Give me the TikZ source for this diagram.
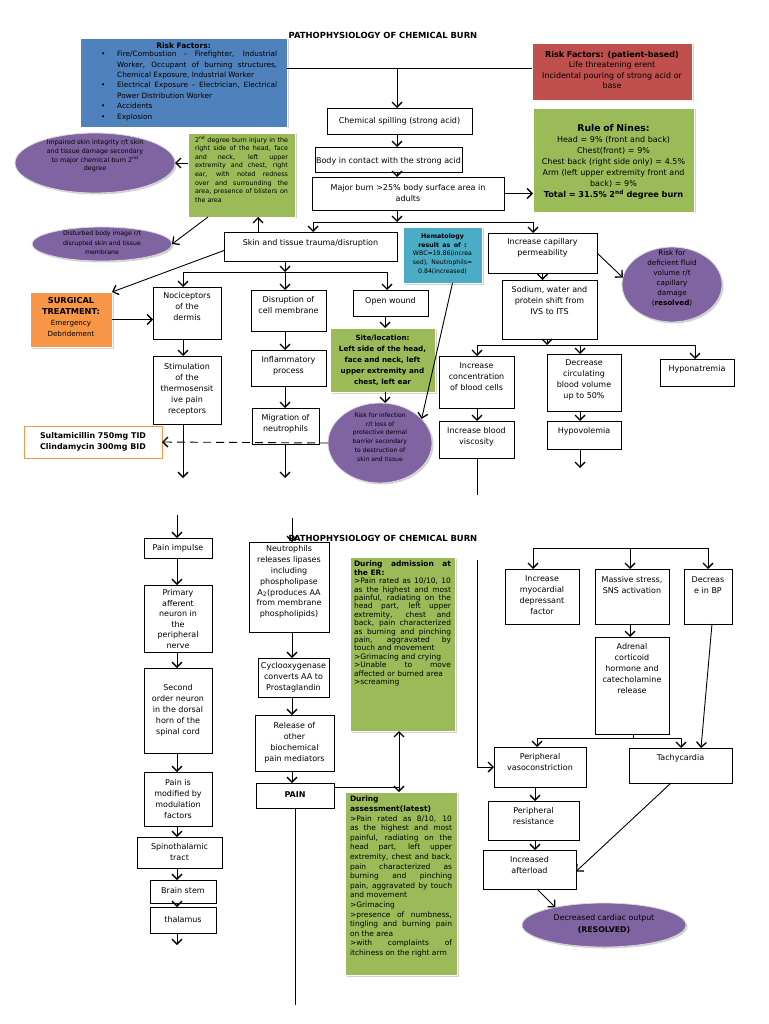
\documentclass[tikz,border=0pt]{standalone}
\usepackage{fontspec}
\setmainfont{DejaVu Sans}
\usetikzlibrary{arrows.meta,shapes.geometric,shadows,calc}
\definecolor{cblue}{HTML}{4F81BD}
\definecolor{cred}{HTML}{C0504D}
\definecolor{cgreen}{HTML}{9BBB59}
\definecolor{corange}{HTML}{F79646}
\definecolor{cteal}{HTML}{4BACC6}
\definecolor{cpurple}{HTML}{8064A2}
\newcommand\fz[2]{\fontsize{#1}{#2}\selectfont}
\newcommand\bitem[1]{\hangindent=37pt\hangafter=1\noindent\hspace*{21pt}\makebox[16pt][l]{\textbullet}#1\par}
\tikzset{
 boxshape/.style={draw=black, line width=0.9pt, fill=white, rectangle, inner sep=0pt, outer sep=0pt},
 txt/.style={align=center, inner sep=0pt, font=\fz{8}{11}},
 ln/.style={line width=0.9pt},
 shad/.style={drop shadow={opacity=0.35,shadow xshift=1.5pt,shadow yshift=-1.5pt}},
 cfill/.style={fill=#1, draw=white, line width=0.8pt, shad},
 ell/.style={ellipse, fill=cpurple, draw=white!85!black, line width=0.8pt, inner sep=0pt, outer sep=0pt, shad},
 jtxt/.style={anchor=north, inner sep=0pt, align=justify},
}
\newcommand\cbx[6][]{%
 \pgfmathsetmacro\bxw{#5-#3}\pgfmathsetmacro\bxh{#6-#4}%
 \pgfmathsetmacro\bxx{(#3+#5)/2}\pgfmathsetmacro\bxy{(#4+#6)/2}%
 \node[boxshape,#1,minimum width=\bxw pt,minimum height=\bxh pt] (#2) at (\bxx,\bxy) {};}
\newcommand\bx[8][]{\cbx{#2}{#3}{#4}{#5}{#6}\node[txt,#1] at (\bxx,#7) {#8};}
\begin{document}
\begin{tikzpicture}[x=1pt,y=-1pt,>={Straight Barb[length=5pt,width=10pt,line width=1.3pt]}]
\useasboundingbox (0,0) rectangle (768,1024);
\fill[white] (0,0) rectangle (768,1024);
% titles
\node[font=\bfseries\fz{8.4}{10}] (t1) at (383,35) {PATHOPHYSIOLOGY OF CHEMICAL BURN};
\node[font=\bfseries\fz{8.4}{10}] (t2) at (383,538) {PATHOPHYSIOLOGY OF CHEMICAL BURN};
% ---------- top half ----------
\cbx[cfill=cblue]{rf}{80}{38}{287}{127}
\node[font=\bfseries\fz{7.5}{10.4},inner sep=0pt] at (183.5,46) {Risk Factors:};
\node[anchor=north west,inner sep=0pt,text width=197pt,align=justify,font=\fz{7.3}{10.4}] at (80,51) {%
 \bitem{Fire/Combustion -- Firefighter, Industrial\linebreak Worker, Occupant of burning structures,\linebreak Chemical Exposure, Industrial Worker}%
 \bitem{Electrical Exposure -- Electrician, Electrical\linebreak Power Distribution Worker}%
 \bitem{Accidents}%
 \bitem{Explosion}};
\cbx[cfill=cred]{rfp}{532}{43}{692}{100}
\node[anchor=center,inner sep=0pt,text width=158pt,align=center,font=\fz{7.9}{10.5}] at (612,70) {{\bfseries\fz{8.1}{10.5}Risk Factors: (patient-based)\par}Life threatening erent\\Incidental pouring of strong acid or\\base};
\cbx[cfill=cgreen]{rule}{533}{108}{694}{212}
\node[anchor=center,inner sep=0pt,text width=160pt,align=center,font=\fz{8}{11}] at (613.5,162) {{\bfseries\fz{9.3}{11}Rule of Nines:\par}Head = 9\% (front and back)\\Chest(front) = 9\%\\Chest back (right side only) = 4.5\%\\Arm (left upper extremity front and\\back) = 9\%\par{\bfseries\fz{8.2}{11}Total = 31.5\% 2\textsuperscript{nd} degree burn\par}};
\bx{chem}{327}{108}{472}{134}{121}{Chemical spilling (strong acid)}
\bx{body}{315}{147}{462}{172}{161}{Body in contact with the strong acid}
\bx{major}{312}{177}{504}{210}{193}{Major burn >25\% body surface area in\\adults}
\cbx[cfill=cgreen]{gtwo}{188}{133}{295}{217}
\node[jtxt,text width=93pt,font=\fz{6.4}{8.6}] at (241.5,136) {2\textsuperscript{nd} degree burn injury in the\linebreak right side of the head, face\linebreak and neck, left upper\linebreak extremity and chest, right\linebreak ear, with noted redness\linebreak over and surrounding the\linebreak area, presence of blisters on\linebreak the area};
\node[ell,minimum width=160pt,minimum height=60pt] (imp) at (95,163) {};
\node[txt,font=\fz{6.4}{8.8}] at (95,156) {Impaired skin integrity r/t skin\\and tissue damage secondary\\to major chemical burn 2\textsuperscript{nd}\\degree};
\node[ell,minimum width=140pt,minimum height=34pt] (dist) at (102,244) {};
\node[txt,font=\fz{6.2}{9.6}] at (102,243) {Disturbed body image r/t\\disrupted skin and tissue\\membrane};
\bx{skin}{224}{232}{397}{261}{243}{Skin and tissue trauma/disruption}
\cbx[cfill=cteal]{hema}{403}{227}{482}{283}
\node[anchor=center,inner sep=0pt,text width=78pt,align=center] at (442.5,254) {{\bfseries\fz{6.3}{8.5}Hematology\\result as of :\par}{\fz{6.2}{8.8}WBC=19.86(increa\\sed), Neutrophils=\\0.84(increased)\par}};
\bx{cap}{488}{233}{597}{273}{248}{Increase capillary\\permeability}
\node[ell,minimum width=100pt,minimum height=75pt] (def) at (672,284.5) {};
\node[txt,font=\fz{7.2}{10}] at (672,278) {Risk for\\deficient fluid\\volume r/t\\capillary\\damage\\(\textbf{resolved})};
\bx{sod}{502}{280}{597}{339}{301}{Sodium, water and\\protein shift from\\IVS to ITS}
\bx{conc}{439}{356}{514}{408}{377}{Increase\\concentration\\of blood cells}
\bx{visc}{439}{421}{514}{458}{437}{Increase blood\\viscosity}
\bx{decr}{547}{354}{621}{411}{380}{Decrease\\circulating\\blood volume\\up to 50\%}
\bx{hypov}{547}{421}{621}{449}{431}{Hypovolemia}
\bx{hypon}{660}{359}{734}{386}{369}{Hyponatremia}
\cbx[cfill=corange]{surg}{30}{292}{112}{347}
\node[anchor=center,inner sep=0pt,text width=80pt,align=center,font=\fz{7.1}{11}] at (71,317) {{\bfseries\fz{8.2}{11}SURGICAL\\TREATMENT:\par}Emergency\\Debridement};
\bx{noci}{153}{287}{221}{339}{307}{Nociceptors\\of the\\dermis}
\bx{stim}{153}{356}{221}{424}{389}{Stimulation\\of the\\thermosensit\\ive pain\\receptors}
\bx{disr}{251}{290}{326}{331}{305}{Disruption of\\cell membrane}
\bx{infl}{251}{350}{326}{386}{366}{Inflammatory\\process}
\bx{migr}{252}{408}{319}{444}{424}{Migration of\\neutrophils}
\bx{open}{353}{290}{428}{316}{301}{Open wound}
\cbx[cfill=cgreen]{site}{330}{328}{435}{392}
\node[txt,font=\bfseries\fz{7.2}{11}] at (382.5,360) {Site/location:\\Left side of the head,\\face and neck, left\\upper extremity and\\chest, left ear};
\node[ell,minimum width=104pt,minimum height=80pt] (inf) at (380,443) {};
\node[txt,font=\fz{6.1}{8.8}] at (380,437) {Risk for infection\\r/t loss of\\protective dermal\\barrier secondary\\to destruction of\\skin and tissue};
\cbx[draw=corange,line width=1pt]{sult}{24}{426}{162}{458}
\node[txt,font=\bfseries\fz{7.9}{11}] at (93,442) {Sultamicillin 750mg TID\\Clindamycin 300mg BID};
% ---------- bottom half ----------
\bx{pimp}{144}{538}{212}{558}{548}{Pain impulse}
\bx[font=\fz{8}{10.5}]{prim}{144}{585}{212}{652}{619}{Primary\\afferent\\neuron in\\the\\peripheral\\nerve}
\bx{sec}{144}{668}{212}{753}{710}{Second\\order neuron\\in the dorsal\\horn of the\\spinal cord}
\bx{mod}{144}{772}{212}{826}{799}{Pain is\\modified by\\modulation\\factors}
\bx{spino}{137}{837}{222}{868}{852}{Spinothalamic\\tract}
\bx{brain}{150}{880}{216}{903}{891}{Brain stem}
\bx{thal}{150}{907}{216}{933}{920}{thalamus}
\bx[font=\fz{8}{10.8}]{neut}{249}{542}{329}{632}{582}{Neutrophils\\releases lipases\\including\\phospholipase\\A\textsubscript{2}(produces AA\\from membrane\\phospholipids)}
\bx{cox}{258}{658}{329}{697}{677}{Cyclooxygenase\\converts AA to\\Prostaglandin}
\bx{rel}{255}{715}{334}{771}{743}{Release of\\other\\biochemical\\pain mediators}
\bx[font=\bfseries\fz{8}{11}]{pain}{256}{783}{334}{808}{795}{PAIN}
\cbx[cfill=cgreen]{adm}{350}{557}{455}{731}
\node[jtxt,text width=97pt,font=\fz{7.5}{8.4}] at (402.5,561) {{\bfseries During admission at\linebreak the ER:}\newline >Pain rated as 10/10, 10\linebreak as the highest and most\linebreak painful, radiating on the\linebreak head part, left upper\linebreak extremity, chest and\linebreak back, pain characterized\linebreak as burning and pinching\linebreak pain, aggravated by\linebreak touch and movement\newline >Grimacing and crying\newline >Unable to move\linebreak affected or burned area\newline >screaming};
\cbx[cfill=cgreen]{ass}{345}{792}{457}{975}
\node[jtxt,text width=102pt,font=\fz{7.5}{9.6}] at (401,796) {{\bfseries During\newline assessment(latest)}\newline >Pain rated as 8/10, 10\linebreak as the highest and most\linebreak painful, radiating on the\linebreak head part, left upper\linebreak extremity, chest and back,\linebreak pain characterized as\linebreak burning and pinching\linebreak pain, aggravated by touch\linebreak and movement\newline >Grimacing\newline >presence of numbness,\linebreak tingling and burning pain\linebreak on the area\newline >with complaints of\linebreak itchiness on the right arm};
\bx{myo}{505}{569}{579}{624}{595}{Increase\\myocardial\\depressant\\factor}
\bx{mass}{595}{569}{669}{624}{585}{Massive stress,\\SNS activation}
\bx{bp}{684}{569}{732}{624}{585}{Decreas\\e in BP}
\bx{adr}{595}{637}{669}{734}{669}{Adrenal\\corticoid\\hormone and\\catecholamine\\release}
\bx{vaso}{494}{747}{586}{787}{762}{Peripheral\\vasoconstriction}
\bx{tachy}{629}{748}{732}{783}{758}{Tachycardia}
\bx{res}{488}{801}{579}{840}{816}{Peripheral\\resistance}
\bx{aft}{483}{850}{576}{889}{865}{Increased\\afterload}
\node[ell,minimum width=164pt,minimum height=44pt] (cdo) at (604,925) {};
\node[txt,font=\fz{7.8}{12}] at (604,924) {Decreased cardiac output\\\textbf{(RESOLVED)}};
% ---------- connectors top ----------
\coordinate (J1) at (397,68);
\draw[ln] (rf.east |- J1) -- (rfp.west |- J1);
\draw[ln,->] (J1) -- (J1 |- chem.north);
\draw[ln,->] (J1 |- chem.south) -- (J1 |- body.north);
\draw[ln,->] (J1 |- body.south) -- (J1 |- major.north);
\coordinate (J2) at (397,222);
\draw[ln,->] (J1 |- major.south) -- (J2);
\coordinate (c313) at (313,0); \coordinate (c533) at (533,0);
\draw[ln] (c313 |- J2) -- (c533 |- J2);
\draw[ln,->] (c313 |- J2) -- (c313 |- skin.north);
\draw[ln,->] (c533 |- J2) -- (c533 |- cap.north);
\draw[ln,->] (major.east) -- (major.east -| rule.west);
\coordinate (c258) at (258,0);
\draw[ln,->] (c258 |- skin.north) -- (c258 |- gtwo.south);
\draw[ln,->] (gtwo.west |- imp.east) -- (imp.east);
\draw[ln,->] ($(gtwo.south west)+(20,0)$) -- (dist.east);
\draw[ln,->] ($(skin.west)+(0,4)$) -- (surg.north east);
\draw[ln,->] (surg.east) -- (surg.east -| noci.west);
\coordinate (J3) at (285,272);
\coordinate (c183) at (183,0); \coordinate (c387) at (387,0);
\draw[ln,->] (J3 |- skin.south) -- (J3);
\draw[ln] (c183 |- J3) -- (c387 |- J3);
\draw[ln,->] (c183 |- J3) -- (c183 |- noci.north);
\draw[ln,->] (J3) -- (J3 |- disr.north);
\draw[ln,->] (c387 |- J3) -- (c387 |- open.north);
\draw[ln,->] (c183 |- noci.south) -- (c183 |- stim.north);
\coordinate (E1) at (183,478);
\draw[ln,->] (c183 |- stim.south) -- (E1);
\draw[ln,->] (J3 |- disr.south) -- (J3 |- infl.north);
\draw[ln,->] (J3 |- infl.south) -- (J3 |- migr.north);
\coordinate (E2) at (285,478);
\draw[ln,->] (J3 |- migr.south) -- (E2);
\coordinate (c385) at (385,0);
\draw[ln,->] (c385 |- open.south) -- (c385 |- site.north);
\draw[ln,->] (c385 |- site.south) -- (c385 |- inf.north);
\draw[ln,->,dash pattern=on 8pt off 5pt] (inf.west) -- (sult.east);
\draw[ln,->] ($(hema.south)+(10,0)$) -- (inf.30);
\draw[ln,->] (cap.east) -- (def.172);
\draw[ln,->] (cap.south) -- (cap.south |- sod.north);
\coordinate (J4) at (547,345);
\draw[ln,->] (J4 |- sod.south) -- (J4);
\coordinate (c477) at (477,0); \coordinate (c580) at (580,0); \coordinate (c695) at (695,0);
\draw[ln] (c477 |- J4) -- (c695 |- J4);
\draw[ln,->] (c477 |- J4) -- (c477 |- conc.north);
\draw[ln,->] (c580 |- J4) -- (c580 |- decr.north);
\draw[ln,->] (c695 |- J4) -- (c695 |- hypon.north);
\draw[ln,->] (c477 |- conc.south) -- (c477 |- visc.north);
\coordinate (E3) at (477,495);
\draw[ln] (c477 |- visc.south) -- (E3);
\draw[ln,->] (c580 |- decr.south) -- (c580 |- hypov.north);
\coordinate (E4) at (580,468);
\draw[ln,->] (c580 |- hypov.south) -- (E4);
% ---------- connectors bottom ----------
\coordinate (S1) at (177,515);
\draw[ln,->] (S1) -- (S1 |- pimp.north);
\draw[ln,->] (S1 |- pimp.south) -- (S1 |- prim.north);
\draw[ln,->] (S1 |- prim.south) -- (S1 |- sec.north);
\draw[ln,->] (S1 |- sec.south) -- (S1 |- mod.north);
\draw[ln,->] (S1 |- mod.south) -- (S1 |- spino.north);
\draw[ln,->] (S1 |- spino.south) -- (S1 |- brain.north);
\draw[ln,->] (S1 |- brain.south) -- (S1 |- thal.north);
\coordinate (E5) at (177,945);
\draw[ln,->] (S1 |- thal.south) -- (E5);
\coordinate (S2) at (292,518);
\draw[ln,->] (S2) -- (S2 |- neut.north);
\draw[ln,->] (S2 |- neut.south) -- (S2 |- cox.north);
\draw[ln,->] (S2 |- cox.south) -- (S2 |- rel.north);
\draw[ln,->] (S2 |- rel.south) -- (S2 |- pain.north);
\coordinate (E6) at (295,1005);
\draw[ln] (E6 |- pain.south) -- (E6);
\coordinate (J5) at (399,787);
\draw[ln] (pain.east |- J5) -- (J5);
\draw[ln,<->] (J5 |- adm.south) -- (J5 |- ass.north);
\coordinate (S3) at (477,560);
\draw[ln,->] (S3) |- (vaso.west);
\coordinate (J6) at (630,548); \coordinate (c708) at (708,0);
\draw[ln] (c533 |- J6) -- (c708 |- J6);
\draw[ln,->] (c533 |- J6) -- (c533 |- myo.north);
\draw[ln,->] (J6) -- (J6 |- mass.north);
\draw[ln,->] (c708 |- J6) -- (c708 |- bp.north);
\draw[ln,->] (J6 |- mass.south) -- (J6 |- adr.north);
\coordinate (J7) at (633,738);
\draw[ln] (J7 |- adr.south) -- (J7);
\coordinate (c537) at (537,0); \coordinate (c681) at (681,0);
\draw[ln] (c537 |- J7) -- (c681 |- J7);
\draw[ln,->] (c537 |- J7) -- (c537 |- vaso.north);
\draw[ln,->] (c681 |- J7) -- (c681 |- tachy.north);
\coordinate (c712) at (712,0); \coordinate (c701) at (701,0);
\draw[ln,->] (c712 |- bp.south) -- (c701 |- tachy.north);
\coordinate (c535) at (535,0);
\draw[ln,->] (c535 |- vaso.south) -- (c535 |- res.north);
\draw[ln,->] (c535 |- res.south) -- (c535 |- aft.north);
\coordinate (c671) at (671,0);
\draw[ln,->] (c671 |- tachy.south) -- ($(aft.east)+(0,2)$);
\draw[ln,->] (c537 |- aft.south) -- (cdo.160);
\end{tikzpicture}
\end{document}
